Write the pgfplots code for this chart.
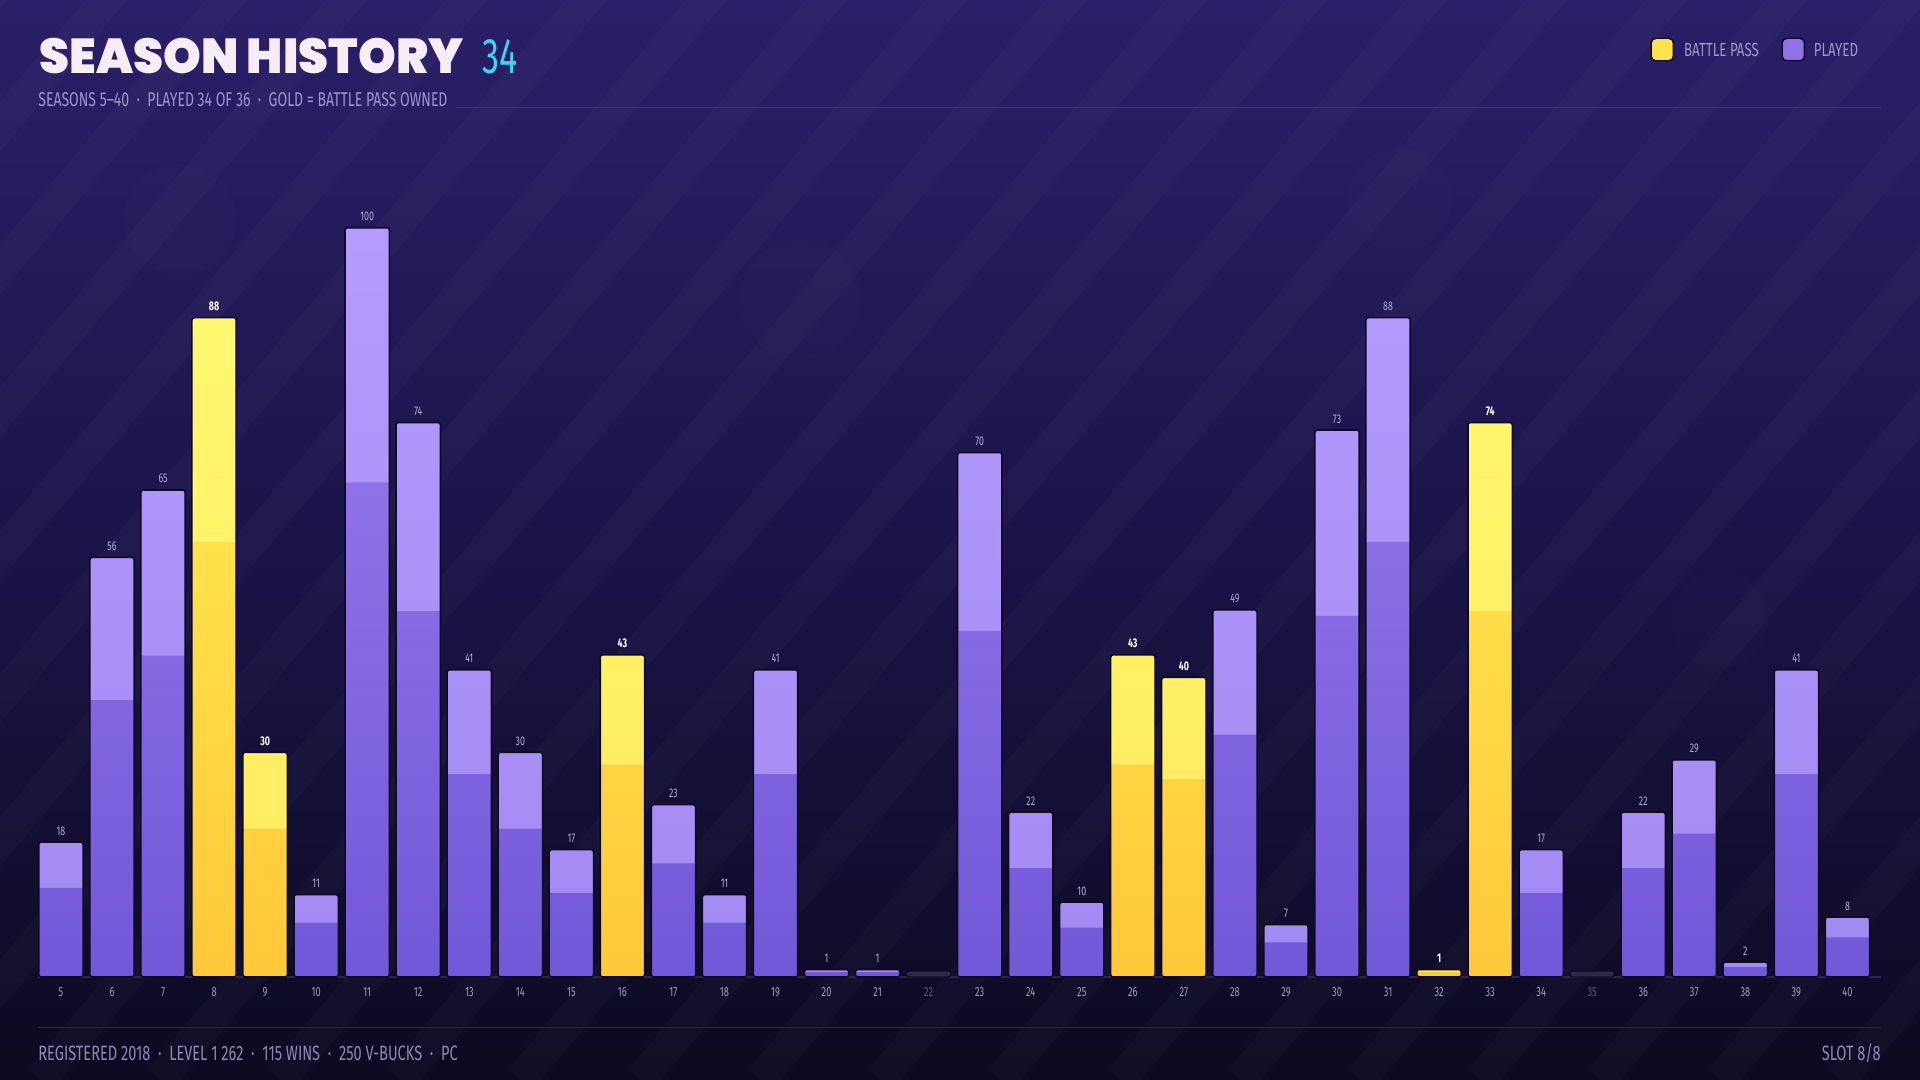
\documentclass[border=0pt]{standalone}
\usepackage{fontspec}
\setmainfont{Fira Sans}[FakeStretch=0.7]
\newfontfamily\numfont{Fira Sans}[FakeStretch=0.68]
\newfontfamily\titlefont{Poppins Black}[FakeStretch=0.98]
\usepackage{pgfplots}
\pgfplotsset{compat=1.18}
\usepackage{pgfplotstable}
\pgfplotsset{/pgf/number format/assume math mode=true}

\definecolor{bgtop}{HTML}{2A1F68}
\definecolor{bgmid}{HTML}{1B1449}
\definecolor{bgbot}{HTML}{0C0920}
\definecolor{plight}{HTML}{B49BFF}
\definecolor{plight2}{HTML}{A28AF3}
\definecolor{pdark}{HTML}{8F72E8}
\definecolor{pdark2}{HTML}{7158D8}
\definecolor{ylight}{HTML}{FFF870}
\definecolor{ylight2}{HTML}{FFE95E}
\definecolor{ydark}{HTML}{FFE14C}
\definecolor{ydark2}{HTML}{FFC83B}
\definecolor{outl}{HTML}{0E0A26}
\definecolor{stubc}{HTML}{2E2A45}
\definecolor{lblc}{HTML}{B3ABD8}
\definecolor{tickc}{HTML}{A29BC7}
\definecolor{tickdim}{HTML}{5E5880}
\definecolor{subc}{HTML}{9D96C8}
\definecolor{cyanT}{HTML}{3FD3F2}
\definecolor{linec}{HTML}{3A3180}
\definecolor{footc}{HTML}{8F88B5}
\definecolor{basec}{HTML}{2B2552}

\pgfplotstableread{
x v
5 18
6 56
7 65
10 11
11 100
12 74
13 41
14 30
15 17
17 23
18 11
19 41
20 1
21 1
23 70
24 22
25 10
28 49
29 7
30 73
31 88
34 17
36 22
37 29
38 2
39 41
40 8
}\played
\pgfplotstableread{
x v
8 88
9 30
16 43
26 43
27 40
32 1
33 74
}\bpass
\pgfplotstableread{
x v stub
22 0 0.8
35 0 0.8
}\unplayed

\begin{document}
\begin{tikzpicture}[x=1pt,y=1pt]
% background
\fill[top color=bgtop, bottom color=bgbot, middle color=bgmid] (0,0) rectangle (960,540);
\begin{scope}
\clip (0,0) rectangle (960,540);
\foreach \i in {-700,-640,...,960} {
  \draw[white, opacity=0.025, line width=16pt] (\i,0) -- ++(50:1000);
}
\fill[white, opacity=0.01] (90,430) circle (28);
\fill[white, opacity=0.01] (400,390) circle (30);
\fill[white, opacity=0.01] (700,440) circle (26);
\fill[white, opacity=0.01] (860,230) circle (24);
\end{scope}

% header
\node[anchor=base west, inner sep=0, text=white!93!violet, font=\titlefont\fontsize{24.5}{26}\selectfont] at (19.6,503.3) {SEASON HISTORY};
\node[anchor=base west, inner sep=0, text=cyanT, font=\numfont\fontsize{25}{26}\selectfont] at (241.2,503.3) {34};
\node[anchor=base west, inner sep=0, text=subc, font=\fontsize{10}{11}\selectfont] at (19,486.7) {SEASONS 5–40 \ · \ PLAYED 34 OF 36 \ · \ GOLD = BATTLE PASS OWNED};
\draw[linec, line width=0.6pt] (228,486.1) -- (940.5,486.1);

% legend
\fill[outl, rounded corners=2pt] (825.3,509.4) rectangle (837,521);
\fill[ydark, rounded corners=2pt] (826,510) rectangle (836.3,520.4);
\node[anchor=base west, inner sep=0, text=subc, font=\fontsize{9.5}{10}\selectfont] at (841.8,511.8) {BATTLE PASS};
\fill[outl, rounded corners=2pt] (890.8,509.4) rectangle (902.5,521);
\fill[pdark, rounded corners=2pt] (891.5,510) rectangle (901.8,520.4);
\node[anchor=base west, inner sep=0, text=subc, font=\fontsize{9.5}{10}\selectfont] at (906.7,511.8) {PLAYED};

% footer
\draw[basec, line width=0.6pt] (19,26.3) -- (940.5,26.3);
\node[anchor=base west, inner sep=0, text=footc, font=\fontsize{10.4}{11}\selectfont] at (19,9.8) {REGISTERED 2018 \ · \ LEVEL 1 262 \ · \ 115 WINS \ · \ 250 V-BUCKS \ · \ PC};
\node[anchor=base east, inner sep=0, text=footc, font=\fontsize{10.4}{11}\selectfont] at (940.5,9.8) {SLOT 8/8};

\begin{axis}[
  at={(19pt,51.5pt)}, anchor=south west,
  scale only axis, width=921.3pt, height=412.1pt,
  xmin=4.55, xmax=40.65, ymin=0, ymax=110,
  axis line style={draw=none},
  ytick=\empty,
  xtick={5,...,40},
  xticklabels={5,6,7,8,9,10,11,12,13,14,15,16,17,18,19,20,21,\textcolor{tickdim}{22},23,24,25,26,27,28,29,30,31,32,33,34,\textcolor{tickdim}{35},36,37,38,39,40},
  major tick length=0pt,
  xticklabel style={font=\fontsize{6.6}{7}\selectfont, text=tickc, inner sep=0pt, anchor=base, yshift=-10pt},
  clip=false,
  ybar, bar width=0.87,
  nodes near coords style={font=\fontsize{6.3}{7}\selectfont, inner sep=0pt, anchor=base, yshift=3.5pt},
]
\draw[basec, line width=1.2pt] (axis cs:4.55,0) -- (axis cs:40.65,0);
% unplayed stubs
\addplot[bar shift=0pt, fill=stubc, draw=outl, line width=0.7pt, rounded corners=1.2pt]
  table[x=x, y=stub] {\unplayed};
% played: light full bar
\addplot[bar shift=0pt, top color=plight, bottom color=plight2, draw=none, rounded corners=1.2pt]
  table[x=x, y=v] {\played};
% played: darker lower part
\addplot[bar shift=0pt, top color=pdark, bottom color=pdark2, draw=none]
  table[x=x, y expr=\thisrow{v}*0.66] {\played};
% played: outline + labels
\addplot[bar shift=0pt, fill=none, draw=outl, line width=0.8pt, rounded corners=1.2pt,
  nodes near coords, point meta=explicit, nodes near coords style={text=lblc}]
  table[x=x, y=v, meta=v] {\played};
% battle pass
\addplot[bar shift=0pt, top color=ylight, bottom color=ylight2, draw=none, rounded corners=1.2pt]
  table[x=x, y=v] {\bpass};
\addplot[bar shift=0pt, top color=ydark, bottom color=ydark2, draw=none]
  table[x=x, y expr=\thisrow{v}*0.66] {\bpass};
\addplot[bar shift=0pt, fill=none, draw=outl, line width=0.8pt, rounded corners=1.2pt,
  nodes near coords, point meta=explicit, nodes near coords style={text=white, font=\bfseries\fontsize{6.3}{7}\selectfont}]
  table[x=x, y=v, meta=v] {\bpass};
\end{axis}
\end{tikzpicture}
\end{document}
